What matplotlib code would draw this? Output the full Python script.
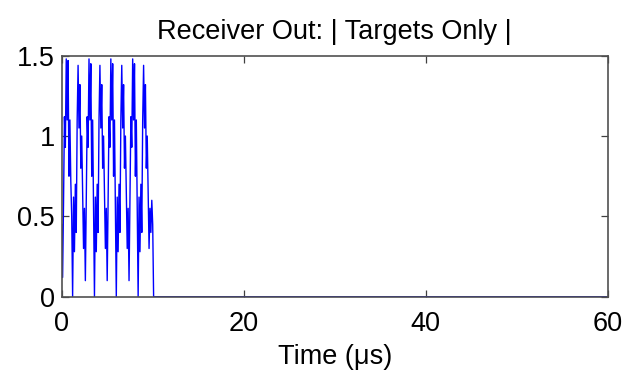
import matplotlib
matplotlib.use("Agg")
import matplotlib.pyplot as plt

plt.rcParams['font.family'] = ['Liberation Sans', 'DejaVu Sans']

# Time samples (microseconds) and magnitude
time_us = [0.0, 0.1, 0.2, 0.3, 0.4, 0.5, 0.6, 0.7, 0.8, 0.9,
           1.0, 1.1, 1.2, 1.3, 1.4, 1.5, 1.6, 1.7, 1.8, 1.9,
           2.0, 2.1, 2.2, 2.3, 2.4, 2.5, 2.6, 2.7, 2.8, 2.9,
           3.0, 3.1, 3.2, 3.3, 3.4, 3.5, 3.6, 3.7, 3.8, 3.9,
           4.0, 4.1, 4.2, 4.3, 4.4, 4.5, 4.6, 4.7, 4.8, 4.9,
           5.0, 5.1, 5.2, 5.3, 5.4, 5.5, 5.6, 5.7, 5.8, 5.9,
           6.0, 6.1, 6.2, 6.3, 6.4, 6.5, 6.6, 6.7, 6.8, 6.9,
           7.0, 7.1, 7.2, 7.3, 7.4, 7.5, 7.6, 7.7, 7.8, 7.9,
           8.0, 8.1, 8.2, 8.3, 8.4, 8.5, 8.6, 8.7, 8.8, 8.9,
           9.0, 9.1, 9.2, 9.3, 9.4, 9.5, 9.6, 9.7, 9.8, 9.9,
           10.0, 10.1, 60.0]
magnitude = [0.45, 0.12, 0.58, 1.12, 0.93, 1.48, 1.10, 1.47, 0.75, 1.10,
             0.72, 0.50, 0.00, 0.62, 0.28, 0.70, 0.40, 1.10, 1.44, 1.05,
             1.32, 0.80, 1.00, 0.65, 0.30, 0.55, 0.10, 0.60, 1.12, 0.93,
             1.48, 1.10, 1.45, 0.75, 1.10, 0.55, 0.00, 0.62, 0.28, 0.70,
             0.40, 1.10, 1.44, 1.05, 1.32, 0.80, 1.00, 0.65, 0.30, 0.55,
             0.10, 0.60, 1.12, 0.93, 1.48, 1.10, 1.45, 0.75, 1.10, 0.55,
             0.00, 0.62, 0.28, 0.70, 0.40, 1.10, 1.44, 1.05, 1.32, 0.80,
             1.00, 0.65, 0.30, 0.55, 0.10, 0.60, 1.12, 0.93, 1.48, 1.10,
             1.45, 0.75, 1.10, 0.55, 0.00, 0.62, 0.28, 0.70, 0.40, 1.10,
             1.44, 1.05, 1.32, 0.80, 1.00, 0.65, 0.30, 0.55, 0.40, 0.60,
             0.45, 0.00, 0.00]

x_ticks = [0, 20, 40, 60]
y_ticks = [0, 0.5, 1, 1.5]
y_tick_labels = ['0', '0.5', '1', '1.5']

W, H = 625, 376
fig = plt.figure(figsize=(W / 100, H / 100), dpi=100)
left, right, top, bottom = 61.7, 607.7, 55.7, 296.7
ax = fig.add_axes([left / W, 1 - bottom / H, (right - left) / W, (bottom - top) / H])
ax.plot(time_us, magnitude, color=(0, 0, 1), linewidth=1.0)
ax.set_xlim(0, 60)
ax.set_ylim(0, 1.5)
ax.set_xticks(x_ticks)
ax.set_yticks(y_ticks)
ax.set_yticklabels(y_tick_labels)
ax.tick_params(direction='in', top=True, right=True, labelsize=19.5,
               length=5, width=0.9, color='#404040')
ax.tick_params(axis='x', pad=10)
ax.tick_params(axis='y', pad=5)
for s in ax.spines.values():
    s.set_linewidth(1.2)
    s.set_color('#505050')
ax.set_title('Receiver Out: | Targets Only |', fontsize=19.5, pad=12)
ax.set_xlabel('Time (\u03bcs)', fontsize=19.5, labelpad=5)
fig.savefig('out.png', dpi=100, facecolor='white')
